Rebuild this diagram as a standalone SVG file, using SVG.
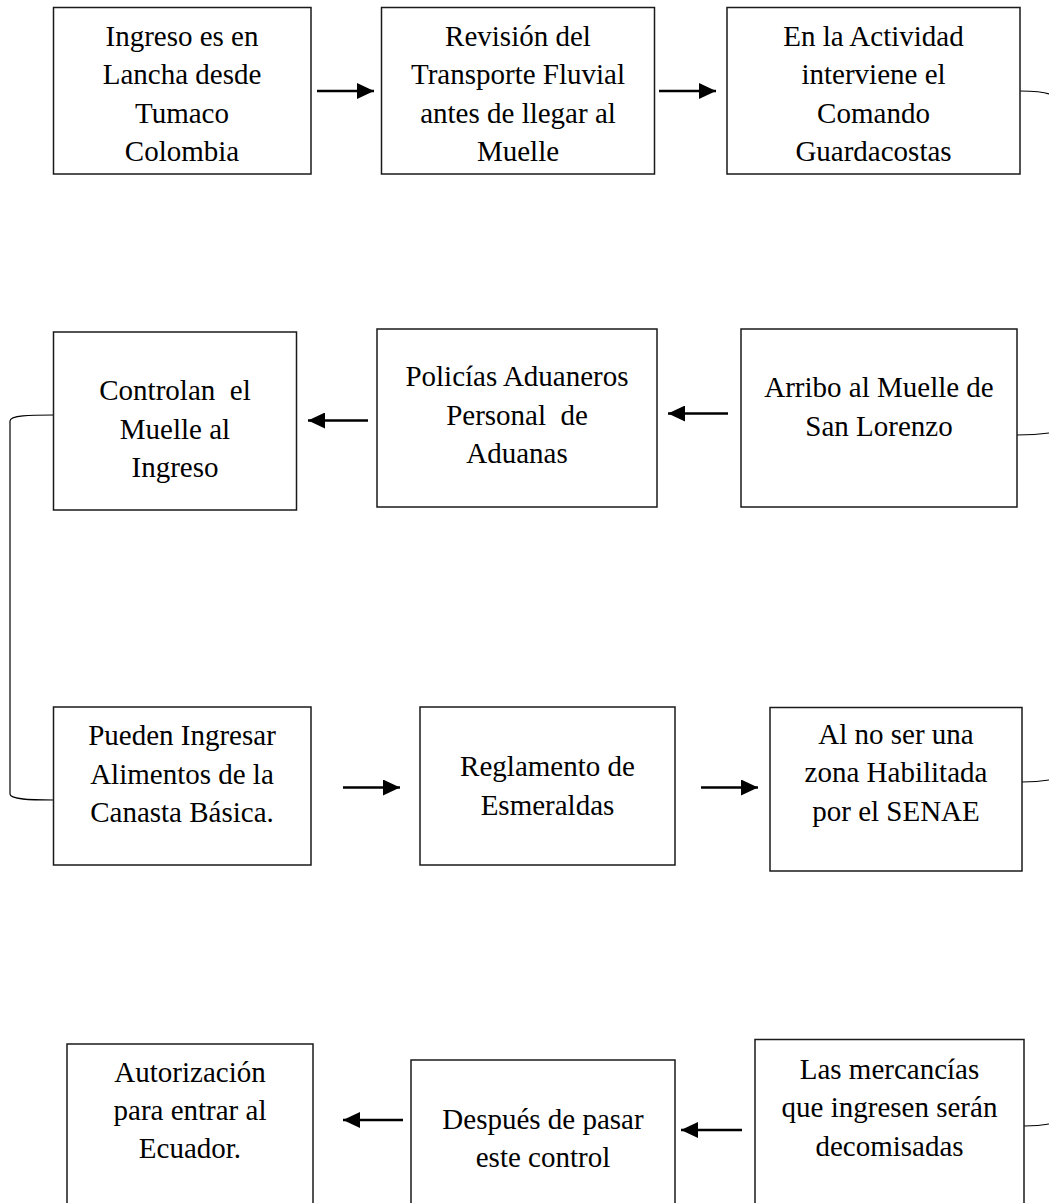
<svg xmlns="http://www.w3.org/2000/svg" width="1049" height="1203" viewBox="0 0 1049 1203">
<style>
.box{fill:#fff;stroke:#1a1a1a;stroke-width:1.5}
.t{font-family:"Liberation Serif","Times New Roman",serif;font-size:29px;fill:#000;text-anchor:middle}
.arr{stroke:#000;stroke-width:2.5;fill:none;marker-end:url(#ah)}
.con{stroke:#000;stroke-width:1.2;fill:none}
</style>
<defs>
<marker id="ah" viewBox="0 0 17 16" refX="17" refY="8" markerWidth="17" markerHeight="16" markerUnits="userSpaceOnUse" orient="auto">
<path d="M0,0 L17,8 L0,16 z" fill="#000"/>
</marker>
</defs>
<rect width="1049" height="1203" fill="#fff"/>
<g id="connectors">
<line class="arr" x1="317" y1="91" x2="374" y2="91"/>
<line class="arr" x1="659" y1="91" x2="716" y2="91"/>
<line class="arr" x1="368" y1="420.5" x2="308" y2="420.5"/>
<line class="arr" x1="728" y1="413.5" x2="668" y2="413.5"/>
<line class="arr" x1="343" y1="787.5" x2="400" y2="787.5"/>
<line class="arr" x1="701" y1="787.5" x2="758" y2="787.5"/>
<line class="arr" x1="403" y1="1120" x2="343" y2="1120"/>
<line class="arr" x1="742" y1="1130" x2="681" y2="1130"/>
<path class="con" d="M1020,91 C1035,91 1044,92 1049,94"/>
<path class="con" d="M1017,435 C1032,435 1042,434 1049,433"/>
<path class="con" d="M1022,782 C1036,782 1043,781 1049,780"/>
<path class="con" d="M1024,1126 C1037,1126 1044,1125 1049,1124"/>
<path class="con" d="M53.5,415 C30,415 10,415.5 10,421 L10,794 C10,799.5 30,800 53.5,800"/>
</g>
<g id="n1"><rect class="box" x="53.5" y="7.5" width="257.5" height="166.5"/>
<text class="t" x="182" y="45.5">Ingreso es en</text><text class="t" x="182" y="84">Lancha desde</text><text class="t" x="182" y="122.5">Tumaco</text><text class="t" x="182" y="161">Colombia</text></g>
<g id="n2"><rect class="box" x="381.5" y="7.5" width="273" height="166.5"/>
<text class="t" x="518" y="45.5">Revisión del</text><text class="t" x="518" y="84">Transporte Fluvial</text><text class="t" x="518" y="122.5">antes de llegar al</text><text class="t" x="518" y="161">Muelle</text></g>
<g id="n3"><rect class="box" x="727" y="7.5" width="293" height="166.5"/>
<text class="t" x="873.5" y="45.5">En la Actividad</text><text class="t" x="873.5" y="84">interviene el</text><text class="t" x="873.5" y="122.5">Comando</text><text class="t" x="873.5" y="161">Guardacostas</text></g>
<g id="n4"><rect class="box" x="741" y="329" width="276" height="178"/>
<text class="t" x="879" y="397">Arribo al Muelle de</text><text class="t" x="879" y="435.5">San Lorenzo</text></g>
<g id="n5"><rect class="box" x="377" y="329" width="280" height="178"/>
<text class="t" x="517" y="386">Policías Aduaneros</text><text class="t" x="517" y="424.5" xml:space="preserve">Personal  de</text><text class="t" x="517" y="463">Aduanas</text></g>
<g id="n6"><rect class="box" x="53.5" y="332" width="243" height="178"/>
<text class="t" x="175" y="400" xml:space="preserve">Controlan  el</text><text class="t" x="175" y="438.5">Muelle al</text><text class="t" x="175" y="477">Ingreso</text></g>
<g id="n7"><rect class="box" x="53.5" y="707" width="257.5" height="158"/>
<text class="t" x="182" y="745">Pueden Ingresar</text><text class="t" x="182" y="783.5">Alimentos de la</text><text class="t" x="182" y="822">Canasta Básica.</text></g>
<g id="n8"><rect class="box" x="420" y="707" width="255" height="158"/>
<text class="t" x="547.5" y="776">Reglamento de</text><text class="t" x="547.5" y="814.5">Esmeraldas</text></g>
<g id="n9"><rect class="box" x="770" y="707.5" width="252" height="163.5"/>
<text class="t" x="896" y="743.5">Al no ser una</text><text class="t" x="896" y="782">zona Habilitada</text><text class="t" x="896" y="820.5">por el SENAE</text></g>
<g id="n10"><rect class="box" x="755" y="1039.5" width="269" height="180"/>
<text class="t" x="889.5" y="1078.5">Las mercancías</text><text class="t" x="889.5" y="1117">que ingresen serán</text><text class="t" x="889.5" y="1155.5">decomisadas</text></g>
<g id="n11"><rect class="box" x="411" y="1060" width="264" height="160"/>
<text class="t" x="543" y="1128.5">Después de pasar</text><text class="t" x="543" y="1167">este control</text></g>
<g id="n12"><rect class="box" x="67" y="1044" width="246" height="176"/>
<text class="t" x="190" y="1082">Autorización</text><text class="t" x="190" y="1120">para entrar al</text><text class="t" x="190" y="1158">Ecuador.</text></g>
</svg>
